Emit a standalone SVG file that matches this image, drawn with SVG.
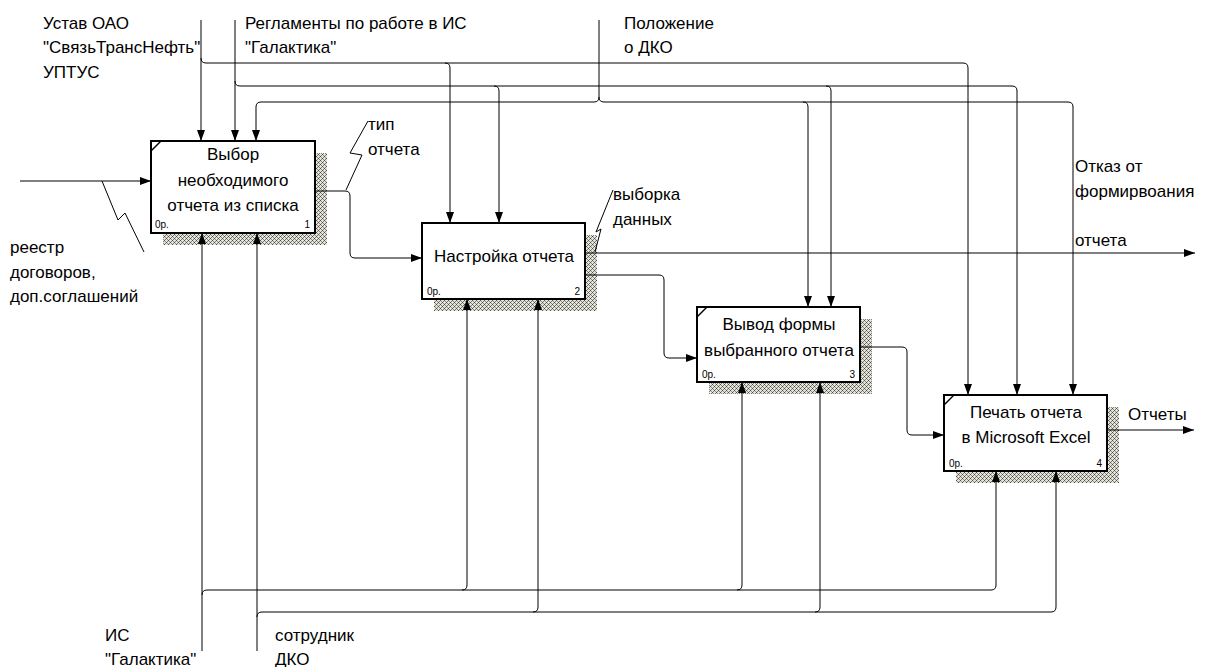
<svg xmlns="http://www.w3.org/2000/svg" width="1205" height="667" viewBox="0 0 1205 667">
  <defs>
    <pattern id="hatch" width="4" height="4" patternUnits="userSpaceOnUse">
      <rect width="4" height="4" fill="#e4e4dc"/>
      <rect x="0" y="0" width="1" height="1" fill="#4a4a44"/>
      <rect x="1" y="1" width="1" height="1" fill="#8a8a80"/>
      <rect x="2" y="2" width="1" height="1" fill="#4a4a44"/>
      <rect x="3" y="3" width="1" height="1" fill="#8a8a80"/>
      <rect x="3" y="1" width="1" height="1" fill="#7a7a70"/>
      <rect x="1" y="3" width="1" height="1" fill="#7a7a70"/>
    </pattern>
    <marker id="arrow" markerUnits="userSpaceOnUse" markerWidth="12" markerHeight="9" refX="11" refY="4" orient="auto">
      <path d="M0,0 L11,4 L0,8 z" fill="#000"/>
    </marker>
  </defs>
  <style>
    .box { fill: #fff; stroke: #000; stroke-width: 2; }
    .shadow { fill: url(#hatch); }
    .corner { stroke: #000; stroke-width: 1.5; fill: none; }
    .title { font-family: "Liberation Sans", Arial, sans-serif; font-size: 17px; fill: #000; text-anchor: middle; }
    .num { font-family: "Liberation Sans", Arial, sans-serif; font-size: 10px; fill: #000; }
    .label { font-family: "Liberation Sans", Arial, sans-serif; font-size: 17px; fill: #000; }
    .arc { fill: none; stroke: #000; stroke-width: 1; }
    .head { marker-end: url(#arrow); }
    .squiggle { fill: none; stroke: #000; stroke-width: 1; }
  </style>

  <!-- activity 1 -->
  <g id="node-1">
    <rect class="shadow" x="163" y="153" width="164" height="92"/>
    <rect class="box" x="151" y="141" width="164" height="92"/>
    <path class="corner" d="M151,151 L161,141"/>
    <text class="title" x="233" y="160">Выбор</text>
    <text class="title" x="233" y="185.5">необходимого</text>
    <text class="title" x="233" y="211">отчета из списка</text>
    <text class="num" x="155" y="228">0р.</text>
    <text class="num" x="310" y="228" text-anchor="end">1</text>
  </g>

  <!-- activity 2 -->
  <g id="node-2">
    <rect class="shadow" x="434" y="235" width="163" height="76"/>
    <rect class="box" x="422" y="223" width="163" height="76"/>
    <text class="title" x="504" y="262">Настройка отчета</text>
    <text class="num" x="427" y="295">0р.</text>
    <text class="num" x="580" y="295" text-anchor="end">2</text>
  </g>

  <!-- activity 3 -->
  <g id="node-3">
    <rect class="shadow" x="709" y="319" width="163" height="75"/>
    <rect class="box" x="697" y="307" width="163" height="75"/>
    <path class="corner" d="M697,317 L707,307"/>
    <text class="title" x="779" y="330">Вывод формы</text>
    <text class="title" x="779" y="356">выбранного отчета</text>
    <text class="num" x="702" y="378">0р.</text>
    <text class="num" x="855" y="378" text-anchor="end">3</text>
  </g>

  <!-- activity 4 -->
  <g id="node-4">
    <rect class="shadow" x="956" y="407" width="163" height="76"/>
    <rect class="box" x="944" y="395" width="163" height="76"/>
    <path class="corner" d="M944,405 L954,395"/>
    <text class="title" x="1026" y="418">Печать отчета</text>
    <text class="title" x="1026" y="443">в Microsoft Excel</text>
    <text class="num" x="949" y="467">0р.</text>
    <text class="num" x="1102" y="467" text-anchor="end">4</text>
  </g>

  <!-- arrows -->
  <g id="connectors">
    <!-- controls -->
    <path class="arc head" d="M201,20 V141"/>
    <path class="arc head" d="M201,58 Q201,63 206,63 H963 Q968,63 968,68 V395"/>
    <path class="arc head" d="M445,63 Q450,63 450,68 V223"/>

    <path class="arc head" d="M235,20 V141"/>
    <path class="arc head" d="M235,81 Q235,86 240,86 H1012 Q1017,86 1017,91 V395"/>
    <path class="arc head" d="M494,86 Q499,86 499,91 V223"/>
    <path class="arc head" d="M826,86 Q831,86 831,91 V307"/>

    <path class="arc head" d="M599,20 V97 Q599,102 594,102 H261 Q256,102 256,107 V141"/>
    <path class="arc head" d="M599,97 Q599,102 604,102 H1068 Q1073,102 1073,107 V395"/>
    <path class="arc head" d="M803,102 Q808,102 808,107 V307"/>

    <!-- input -->
    <path class="arc head" d="M20,181 H151"/>

    <!-- outputs -->
    <path class="arc head" d="M315,191 H345 Q350,191 350,196 V253 Q350,258 355,258 H422"/>
    <path class="arc head" d="M585,253 H1195"/>
    <path class="arc head" d="M585,275 H659 Q664,275 664,280 V353 Q664,358 669,358 H697"/>
    <path class="arc head" d="M860,347 H902 Q907,347 907,352 V430 Q907,435 912,435 H944"/>
    <path class="arc head" d="M1107,430 H1194"/>

    <!-- mechanisms -->
    <path class="arc head" d="M202,651 V233"/>
    <path class="arc head" d="M202,595 Q202,590 207,590 H991 Q996,590 996,585 V471"/>
    <path class="arc head" d="M462,590 Q467,590 467,585 V299"/>
    <path class="arc head" d="M737,590 Q742,590 742,585 V382"/>

    <path class="arc head" d="M257,651 V233"/>
    <path class="arc head" d="M257,617 Q257,612 262,612 H1051 Q1056,612 1056,607 V471"/>
    <path class="arc head" d="M533,612 Q538,612 538,607 V299"/>
    <path class="arc head" d="M815,612 Q820,612 820,607 V382"/>

    <!-- label leaders -->
    <path class="squiggle" d="M102,181 L118,220 L125,213 L144,252"/>
    <path class="squiggle" d="M346,190 L362,155 L350,153 L368,121"/>
    <path class="squiggle" d="M595,252 L601,229 L596,232 L613,190"/>
  </g>

  <!-- arrow labels -->
  <g id="labels">
    <text class="label" x="43" y="29">Устав ОАО</text>
    <text class="label" x="43" y="53">"СвязьТрансНефть"</text>
    <text class="label" x="43" y="78">УПТУС</text>
    <text class="label" x="245" y="29">Регламенты по работе в ИС</text>
    <text class="label" x="245" y="53">"Галактика"</text>
    <text class="label" x="624" y="29">Положение</text>
    <text class="label" x="624" y="53">о ДКО</text>
    <text class="label" x="368" y="130">тип</text>
    <text class="label" x="368" y="155">отчета</text>
    <text class="label" x="613" y="200">выборка</text>
    <text class="label" x="613" y="225">данных</text>
    <text class="label" x="1075" y="172">Отказ от</text>
    <text class="label" x="1075" y="197">формирвоания</text>
    <text class="label" x="1075" y="246">отчета</text>
    <text class="label" x="1128" y="420">Отчеты</text>
    <text class="label" x="10" y="253">реестр</text>
    <text class="label" x="10" y="278">договоров,</text>
    <text class="label" x="10" y="302">доп.соглашений</text>
    <text class="label" x="105" y="641">ИС</text>
    <text class="label" x="105" y="665">"Галактика"</text>
    <text class="label" x="275" y="641">сотрудник</text>
    <text class="label" x="275" y="665">ДКО</text>
  </g>
</svg>
